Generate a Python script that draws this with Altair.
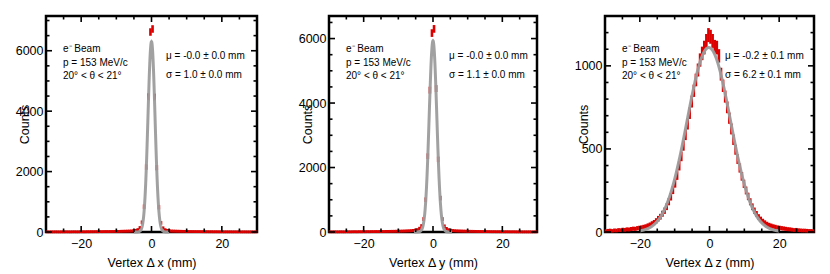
import altair as alt
import numpy as np
import pandas as pd

FONT = "Liberation Sans"
RED = "#dc0000"
GRAY = "#9c9c9c"

# histogram bin centres (100 bins of 0.6 mm between -30 and 30 mm)
centers = np.round(np.arange(-29.7, 29.71, 0.6), 1)

# counts per bin
counts_x = [4, 3, 5, 4, 6, 5, 4, 6, 5, 7, 6, 5, 7, 8, 6, 7, 9, 8, 7, 10,
            9, 11, 10, 12, 11, 13, 12, 14, 15, 14, 16, 17, 18, 20, 19, 22, 24, 26, 28, 30,
            34, 40, 52, 75, 140, 320, 840, 2150, 4480, 6620,
            6720, 4470, 2130, 820, 300, 130, 72, 50, 38, 32,
            29, 27, 25, 23, 21, 20, 18, 17, 16, 15, 14, 13, 13, 12, 11, 10, 11, 9, 10, 8,
            9, 8, 7, 8, 6, 7, 6, 7, 5, 6, 5, 6, 4, 5, 5, 4, 4, 5, 3, 4]

counts_y = [5, 4, 6, 5, 4, 7, 6, 5, 8, 7, 6, 8, 9, 7, 10, 9, 11, 10, 12, 11,
            13, 12, 14, 13, 15, 16, 15, 17, 18, 19, 20, 21, 23, 24, 26, 28, 30, 33, 36, 40,
            46, 55, 70, 110, 190, 400, 1000, 2350, 4400, 6170,
            6300, 4450, 2250, 1050, 400, 180, 105, 68, 52, 44,
            38, 34, 31, 29, 27, 25, 23, 21, 20, 19, 17, 16, 15, 14, 13, 13, 12, 11, 10, 11,
            9, 10, 8, 9, 7, 8, 7, 6, 7, 6, 5, 6, 5, 4, 5, 4, 5, 3, 4, 4]

counts_z = [6, 8, 9, 7, 10, 9, 12, 11, 14, 13, 16, 15, 18, 20, 19, 23, 25, 27, 30, 33,
            38, 43, 50, 57, 67, 80, 92, 110, 128, 152, 182, 212, 252, 292, 340, 398, 455, 520, 585, 650,
            715, 785, 850, 915, 975, 1035, 1075, 1110, 1150, 1185,
            1175, 1150, 1115, 1110, 1060, 950, 880, 815, 750, 685,
            620, 555, 495, 438, 385, 335, 290, 250, 214, 182, 152, 128, 108, 90, 76, 64, 55, 47, 41, 37,
            33, 30, 27, 25, 23, 21, 19, 17, 16, 14, 12, 13, 11, 10, 9, 9, 8, 7, 7, 6]

# x axis ticks
x_major = [-20, 0, 20]
x_minor = [-25, -15, -10, -5, 5, 10, 15, 25]

panels = [
    dict(counts=counts_x, lab="x", ymax=7150, amp=6300, mu=0.0, sigma=1.0, frange=5.0,
         ymajor=[0, 2000, 4000, 6000],
         yminor=[500, 1000, 1500, 2500, 3000, 3500, 4500, 5000, 5500, 6500, 7000],
         mu_txt="μ = -0.0 ± 0.0 mm", sig_txt="σ = 1.0 ± 0.0 mm", width=211),
    dict(counts=counts_y, lab="y", ymax=6700, amp=5930, mu=0.0, sigma=1.1, frange=5.5,
         ymajor=[0, 2000, 4000, 6000],
         yminor=[500, 1000, 1500, 2500, 3000, 3500, 4500, 5000, 5500, 6500],
         mu_txt="μ = -0.0 ± 0.0 mm", sig_txt="σ = 1.1 ± 0.0 mm", width=208),
    dict(counts=counts_z, lab="z", ymax=1300, amp=1110, mu=-0.2, sigma=6.2, frange=20.0,
         ymajor=[0, 500, 1000],
         yminor=[100, 200, 300, 400, 600, 700, 800, 900, 1100, 1200],
         mu_txt="μ = -0.2 ± 0.1 mm", sig_txt="σ = 6.2 ± 0.1 mm", width=209),
]

beam_lines = ["e⁻ Beam", "p = 153 MeV/c", "20° < θ < 21°"]

H = 216


def make_panel(p):
    W = p["width"]
    xs = alt.Scale(domain=[-30, 30], nice=False, zero=False)
    ys = alt.Scale(domain=[0, p["ymax"]], nice=False, zero=False)

    df = pd.DataFrame({"c": centers, "n": p["counts"]})
    hist = alt.Chart(df).transform_calculate(
        lo="datum.n - sqrt(datum.n)", hi="datum.n + sqrt(datum.n)"
    ).mark_rule(color=RED, strokeWidth=2.6, strokeCap="square").encode(
        x=alt.X("c:Q", scale=xs,
                axis=alt.Axis(values=x_major, title=f"Vertex Δ {p['lab']} (mm)",
                              titleY=34, titleBaseline="alphabetic")),
        y=alt.Y("lo:Q", scale=ys,
                axis=alt.Axis(values=p["ymajor"], format="d", title="Counts",
                              titleX=-18, titleY=108, titleBaseline="alphabetic")),
        y2="hi:Q",
    )

    fit = alt.Chart(alt.sequence(-p["frange"], p["frange"] + 0.001, 0.05, as_="xv")).transform_calculate(
        f=f"{p['amp']} * exp(-pow(datum.xv - ({p['mu']}), 2) / (2 * {p['sigma']} * {p['sigma']}))"
    ).mark_line(color=GRAY, strokeWidth=3, opacity=0.95).encode(
        x=alt.X("xv:Q", scale=xs),
        y=alt.Y("f:Q", scale=ys),
    )

    def xticks(vals, L):
        d = pd.DataFrame({"t": vals})
        top = alt.Chart(d).mark_rule(color="black", strokeWidth=1.6).encode(
            x=alt.X("t:Q", scale=xs), y=alt.value(0), y2=alt.value(L))
        bot = alt.Chart(d).mark_rule(color="black", strokeWidth=1.6).encode(
            x=alt.X("t:Q", scale=xs), y=alt.value(H), y2=alt.value(H - L))
        return [top, bot]

    def yticks(vals, L):
        d = pd.DataFrame({"t": vals})
        left = alt.Chart(d).mark_rule(color="black", strokeWidth=1.6).encode(
            y=alt.Y("t:Q", scale=ys), x=alt.value(0), x2=alt.value(L))
        right = alt.Chart(d).mark_rule(color="black", strokeWidth=1.6).encode(
            y=alt.Y("t:Q", scale=ys), x=alt.value(W), x2=alt.value(W - L))
        return [left, right]

    one = pd.DataFrame({"k": [0]})
    txt_left = alt.Chart(one).mark_text(
        align="left", baseline="alphabetic", font=FONT, fontSize=10, lineHeight=13.5, color="black"
    ).encode(x=alt.value(17), y=alt.value(36), text=alt.value(beam_lines))
    txt_right = alt.Chart(one).mark_text(
        align="left", baseline="alphabetic", font=FONT, fontSize=10, lineHeight=19, color="black"
    ).encode(x=alt.value(120), y=alt.value(43), text=alt.value([p["mu_txt"], p["sig_txt"]]))

    layers = [hist, fit]
    layers += xticks(x_major, 6) + xticks(x_minor, 3.5)
    layers += yticks(p["ymajor"], 6) + yticks(p["yminor"], 3.5)
    layers += [txt_left, txt_right]
    return alt.layer(*layers).properties(width=W, height=H)


p1, p2, p3 = [make_panel(p) for p in panels]
chart = alt.hconcat(alt.hconcat(p1, p2, spacing=36), p3, spacing=32).properties(
    padding={"left": 5, "top": 5, "right": 5, "bottom": 0}
).configure_view(
    stroke="black", strokeWidth=2.5
).configure_axis(
    grid=False, domain=False, ticks=False, tickSize=0,
    labelFont=FONT, labelFontSize=12.5, labelColor="black",
    titleFont=FONT, titleFontSize=12.5, titleFontWeight="normal", titleColor="black",
).configure_axisX(
    labelPadding=5
).configure_axisY(
    labelPadding=3
)

chart.save("out.html", embed_options={"renderer": "svg", "actions": False})
